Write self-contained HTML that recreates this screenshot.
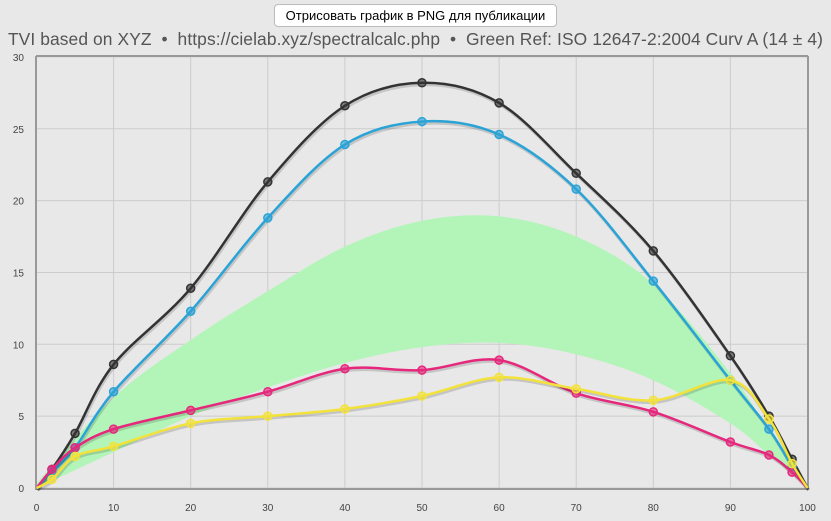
<!DOCTYPE html>
<html><head><meta charset="utf-8"><style>
body{margin:0;background:#e8e8e8;width:831px;height:521px;overflow:hidden;font-family:"Liberation Sans",sans-serif}
#btn{position:absolute;left:274px;top:4px;width:281px;height:21px;background:#fff;border:1px solid #bbb;border-radius:4px;font-size:13px;line-height:21px;text-align:center;color:#000}
#ttl{position:absolute;left:0;top:29px;width:831px;text-align:center;font-size:17.4px;letter-spacing:0.1px;color:#555;white-space:nowrap}
svg{position:absolute;left:0;top:0}
</style></head><body>
<div id="btn">Отрисовать график в PNG для публикации</div>
<div id="ttl">TVI based on XYZ &nbsp;•&nbsp; https://cielab.xyz/spectralcalc.php &nbsp;•&nbsp; Green Ref: ISO 12647-2:2004 Curv A (14 ± 4)</div>
<svg id="s" width="831" height="521" xmlns="http://www.w3.org/2000/svg"></svg>
<script>
const X=v=>36.5+v*7.71, Y=v=>488-v*14.37;
const s=document.getElementById('s');let h='';
for(let i=0;i<=10;i++){const x=X(i*10);h+=`<line x1="${x}" y1="57" x2="${x}" y2="488" stroke="#ccc"/><text x="${x}" y="511" font-size="10" fill="#444" text-anchor="middle">${i*10}</text>`;}
for(let i=0;i<=6;i++){const y=Y(i*5);h+=`<line x1="36" y1="${y}" x2="808" y2="${y}" stroke="#ccc"/><text x="24" y="${y+4}" font-size="10" fill="#444" text-anchor="end">${i*5}</text>`;}
function path(p){let d=`M${X(p[0][0])},${Y(p[0][1])}`;for(let i=0;i<p.length-1;i++){const a=p[Math.max(i-1,0)],b=p[i],c=p[i+1],e=p[Math.min(i+2,p.length-1)];
const t=6;const c1x=X(b[0])+(X(c[0])-X(a[0]))/t,c1y=Y(b[1])+(Y(c[1])-Y(a[1]))/t,c2x=X(c[0])-(X(e[0])-X(b[0]))/t,c2y=Y(c[1])-(Y(e[1])-Y(b[1]))/t;
d+=`C${c1x},${c1y} ${c2x},${c2y} ${X(c[0])},${Y(c[1])}`;}return d;}
const up=[[0,0.3],[10,6.3],[20,10.3],[30,13.7],[40,16.8],[50,18.6],[60,18.9],[70,17.5],[80,14.2],[90,8],[95,4],[100,0]];
const lo=[[0,0],[10,2.5],[20,5],[30,7],[40,8.7],[50,9.8],[60,10.1],[70,9.3],[80,7.5],[90,4.5],[95,2.3],[100,0]];
const lp=path(lo.slice().reverse()).replace('M','L');
h+=`<path d="${path(up)}${lp}Z" fill="#b3f5b8"/>`;
h+=`<line x1="36" y1="56" x2="36" y2="489" stroke="#999" stroke-width="2"/><line x1="35" y1="489" x2="808" y2="489" stroke="#999" stroke-width="2"/><line x1="36" y1="56" x2="808" y2="56" stroke="#999" stroke-width="2"/><line x1="808" y1="56" x2="808" y2="489" stroke="#999" stroke-width="2"/>`;
const S=[["#333",[[0,0],[2,1.3],[5,3.8],[10,8.6],[20,13.9],[30,21.3],[40,26.6],[50,28.2],[60,26.8],[70,21.9],[80,16.5],[90,9.2],[95,5],[98,2],[100,0]]],
["#2aa3d6",[[0,0],[2,1.1],[5,2.8],[10,6.7],[20,12.3],[30,18.8],[40,23.9],[50,25.5],[60,24.6],[70,20.8],[80,14.4],[90,7.5],[95,4.1],[98,1.5],[100,0]]],
["#e6287d",[[0,0],[2,1.3],[5,2.8],[10,4.1],[20,5.4],[30,6.7],[40,8.3],[50,8.2],[60,8.9],[70,6.6],[80,5.3],[90,3.2],[95,2.3],[98,1.1],[100,0]]],
["#f3e23a",[[0,0],[2,0.6],[5,2.2],[10,2.9],[20,4.5],[30,5],[40,5.5],[50,6.4],[60,7.7],[70,6.9],[80,6.1],[90,7.5],[95,4.8],[98,1.7],[100,0]]]];
for(const [c,p] of S){h+=`<path d="${path(p)}" fill="none" stroke="rgba(0,0,0,0.15)" stroke-width="3" transform="translate(1,2)"/><path d="${path(p)}" fill="none" stroke="${c}" stroke-width="2.5"/>`;
for(const q of p.slice(1,-1))h+=`<circle cx="${X(q[0])}" cy="${Y(q[1])}" r="4" fill="${c}" fill-opacity="0.6" stroke="${c}" stroke-width="1.5"/>`;}
s.innerHTML=h;
</script>
</body></html>
